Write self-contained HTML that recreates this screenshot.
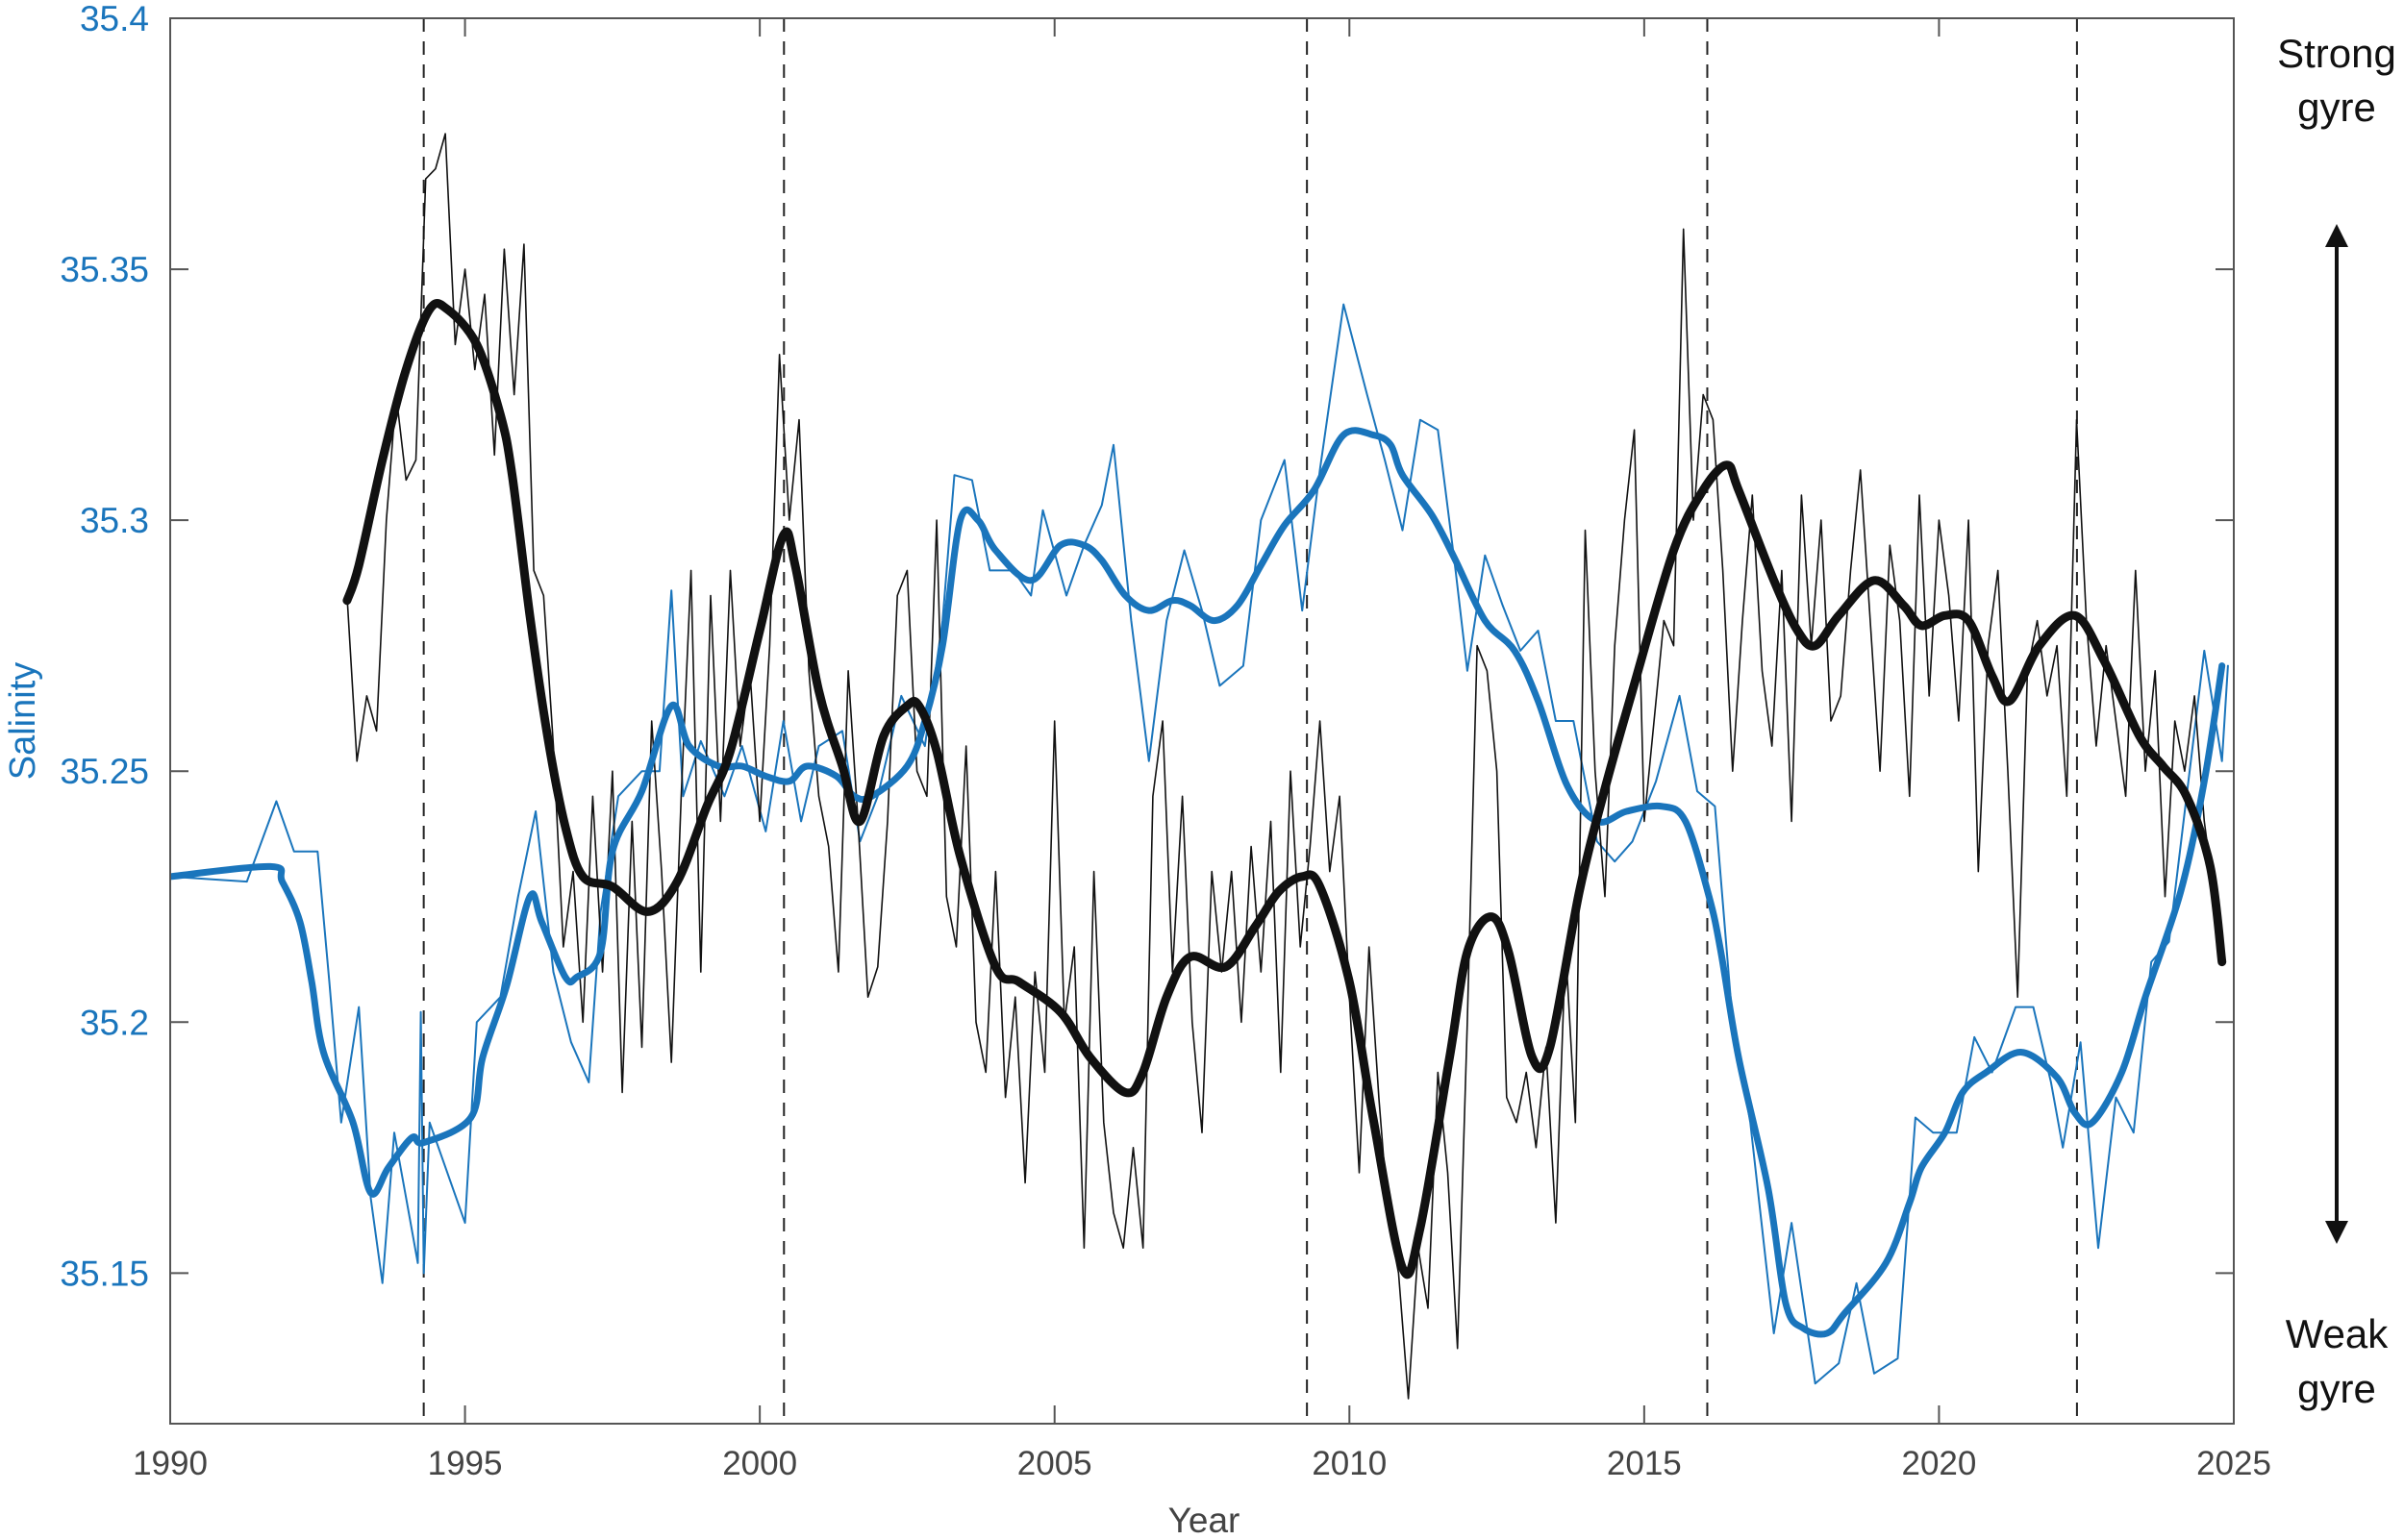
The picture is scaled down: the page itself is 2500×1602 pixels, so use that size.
<!DOCTYPE html>
<html><head><meta charset="utf-8"><style>
html,body{margin:0;padding:0;background:#fff;}
svg{display:block;font-family:"Liberation Sans",Arial,sans-serif;}
</style></head><body>
<svg id="chart" width="2500" height="1602" viewBox="0 0 2500 1602">
<defs><marker id="ah" viewBox="0 0 10 10" refX="5" refY="5" markerWidth="6" markerHeight="6" orient="auto-start-reverse"><path d="M0,0 L10,5 L0,10 z" fill="#111"/></marker></defs>
<g id="grid"></g><g id="series"></g><g id="axes"></g>
<text x="2430" y="70" font-size="42" text-anchor="middle" fill="#111">Strong</text>
<text x="2430" y="126" font-size="42" text-anchor="middle" fill="#111">gyre</text>
<text x="2430" y="1402" font-size="42" text-anchor="middle" fill="#111">Weak</text>
<text x="2430" y="1459" font-size="42" text-anchor="middle" fill="#111">gyre</text>
<line x1="2430" y1="245" x2="2430" y2="1282" stroke="#111" stroke-width="4" marker-start="url(#ah)" marker-end="url(#ah)"/>
<text x="1252" y="1594" font-size="37" text-anchor="middle" fill="#444">Year</text>
<text transform="translate(36,750) rotate(-90)" font-size="38" text-anchor="middle" fill="#1a75bc">Salinity</text>
</svg>
<script>
const xTicks=[1990,1995,2000,2005,2010,2015,2020,2025];
const yTicks=[35.15,35.2,35.25,35.3,35.35,35.4];
const yTickLabels=["35.15","35.2","35.25","35.3","35.35","35.4"];
const eventYears=[1994.3,2000.41,2009.28,2016.07,2022.34];
const blueSmoothYears=[1990,1991.7,1991.9,1992.2,1992.4,1992.6,1993.1,1993.4,1993.7,1994.1,1994.3,1995.1,1995.3,1995.7,1996.1,1996.3,1996.7,1996.9,1997.3,1997.5,1998.0,1998.5,1998.8,1999.3,1999.7,2000.1,2000.5,2000.8,2001.3,2001.6,2001.9,2002.5,2002.8,2003.1,2003.4,2003.7,2004.0,2004.6,2005.1,2005.5,2005.8,2006.2,2006.6,2007.0,2007.3,2007.7,2008.1,2008.5,2008.9,2009.4,2009.9,2010.4,2010.7,2010.9,2011.4,2011.8,2012.3,2012.8,2013.2,2013.7,2014.2,2014.7,2015.3,2015.7,2016.1,2016.3,2016.6,2017.1,2017.4,2017.7,2018.1,2018.4,2019.1,2019.5,2019.7,2020.1,2020.4,2020.8,2021.4,2022.0,2022.3,2022.6,2023.1,2023.5,2024.1,2024.5,2024.8];
const blueSmoothValues=[35.229,35.231,35.228,35.220,35.208,35.194,35.180,35.166,35.171,35.177,35.176,35.181,35.193,35.207,35.225,35.220,35.209,35.209,35.214,35.234,35.246,35.263,35.255,35.251,35.251,35.249,35.248,35.251,35.249,35.245,35.245,35.251,35.260,35.275,35.300,35.300,35.294,35.288,35.295,35.295,35.292,35.285,35.282,35.284,35.283,35.280,35.283,35.291,35.299,35.306,35.317,35.317,35.315,35.309,35.301,35.292,35.280,35.274,35.264,35.247,35.240,35.242,35.243,35.240,35.225,35.214,35.193,35.167,35.144,35.139,35.138,35.142,35.152,35.164,35.171,35.178,35.186,35.190,35.194,35.189,35.182,35.180,35.190,35.205,35.226,35.248,35.271];
const blueThinYears=[1990,1991.3,1991.8,1992.1,1992.5,1992.7,1992.9,1993.2,1993.4,1993.6,1993.8,1994.0,1994.2,1994.25,1994.3,1994.4,1995.0,1995.2,1995.6,1995.9,1996.2,1996.5,1996.8,1997.1,1997.3,1997.6,1998.0,1998.3,1998.5,1998.7,1999.0,1999.4,1999.7,2000.1,2000.4,2000.7,2001.0,2001.4,2001.7,2002.0,2002.4,2002.8,2003.1,2003.3,2003.6,2003.9,2004.3,2004.6,2004.8,2005.2,2005.5,2005.8,2006.0,2006.3,2006.6,2006.9,2007.2,2007.5,2007.8,2008.2,2008.5,2008.9,2009.2,2009.5,2009.9,2010.3,2010.6,2010.9,2011.2,2011.5,2011.8,2012.0,2012.3,2012.6,2012.9,2013.2,2013.5,2013.8,2014.2,2014.5,2014.8,2015.2,2015.6,2015.9,2016.2,2016.5,2016.8,2017.2,2017.5,2017.9,2018.3,2018.6,2018.9,2019.3,2019.6,2019.9,2020.3,2020.6,2020.9,2021.3,2021.6,2021.9,2022.1,2022.4,2022.7,2023.0,2023.3,2023.6,2023.9,2024.2,2024.5,2024.8,2024.9];
const blueThinValues=[35.229,35.228,35.244,35.234,35.234,35.208,35.180,35.203,35.165,35.148,35.178,35.165,35.152,35.202,35.150,35.180,35.160,35.200,35.205,35.225,35.242,35.210,35.196,35.188,35.222,35.245,35.250,35.250,35.286,35.245,35.256,35.245,35.255,35.238,35.260,35.240,35.255,35.258,35.236,35.245,35.265,35.255,35.280,35.309,35.308,35.290,35.290,35.285,35.302,35.285,35.295,35.303,35.315,35.280,35.252,35.280,35.294,35.282,35.267,35.271,35.300,35.312,35.282,35.310,35.343,35.325,35.312,35.298,35.320,35.318,35.290,35.270,35.293,35.283,35.274,35.278,35.260,35.260,35.236,35.232,35.236,35.248,35.265,35.246,35.243,35.200,35.180,35.138,35.160,35.128,35.132,35.148,35.130,35.133,35.181,35.178,35.178,35.197,35.190,35.203,35.203,35.188,35.175,35.196,35.155,35.185,35.178,35.212,35.216,35.245,35.274,35.252,35.271];
const blackSmoothYears=[1993.0,1993.2,1993.6,1994.0,1994.4,1994.7,1995.2,1995.6,1995.8,1996.1,1996.4,1996.7,1997.0,1997.5,1998.1,1998.6,1999.1,1999.5,2000.0,2000.4,2000.6,2001.0,2001.4,2001.7,2002.1,2002.5,2002.7,2003.0,2003.4,2004.0,2004.4,2005.1,2005.6,2006.2,2006.5,2006.9,2007.3,2007.9,2008.4,2008.8,2009.2,2009.5,2010.0,2010.4,2010.9,2011.2,2011.7,2012.0,2012.4,2012.7,2013.1,2013.4,2013.9,2014.3,2014.8,2015.5,2016.0,2016.4,2016.6,2017.2,2017.6,2017.9,2018.3,2018.9,2019.4,2019.7,2020.1,2020.5,2020.9,2021.2,2021.7,2022.3,2022.8,2023.4,2023.8,2024.2,2024.6,2024.8];
const blackSmoothValues=[35.284,35.291,35.312,35.330,35.342,35.342,35.335,35.321,35.309,35.281,35.257,35.239,35.229,35.227,35.222,35.228,35.243,35.254,35.278,35.297,35.291,35.266,35.251,35.240,35.257,35.263,35.263,35.254,35.233,35.211,35.208,35.202,35.193,35.186,35.190,35.205,35.213,35.211,35.219,35.226,35.229,35.227,35.208,35.181,35.151,35.159,35.193,35.214,35.221,35.214,35.193,35.195,35.226,35.245,35.266,35.294,35.306,35.311,35.306,35.288,35.278,35.275,35.281,35.288,35.283,35.279,35.281,35.280,35.269,35.264,35.275,35.281,35.272,35.257,35.251,35.245,35.231,35.212];
const blackThinStart=1993.0;
const blackThinValues=[35.285,35.252,35.265,35.258,35.300,35.325,
35.308,35.312,35.368,35.370,35.377,35.335,
35.350,35.330,35.345,35.313,35.354,35.325,
35.355,35.290,35.285,35.255,35.215,35.230,
35.200,35.245,35.210,35.250,35.186,35.240,
35.195,35.260,35.230,35.192,35.245,35.290,
35.210,35.285,35.240,35.290,35.255,35.270,
35.240,35.275,35.333,35.300,35.320,35.270,
35.245,35.235,35.210,35.270,35.240,35.205,
35.211,35.240,35.285,35.290,35.250,35.245,
35.300,35.225,35.215,35.255,35.200,35.190,
35.230,35.185,35.205,35.168,35.210,35.190,
35.260,35.200,35.215,35.155,35.230,35.180,
35.162,35.155,35.175,35.155,35.245,35.260,
35.210,35.245,35.200,35.178,35.230,35.210,
35.230,35.200,35.235,35.210,35.240,35.190,
35.250,35.215,35.235,35.260,35.230,35.245,
35.205,35.170,35.215,35.185,35.160,35.150,
35.125,35.155,35.143,35.190,35.170,35.135,
35.200,35.275,35.270,35.250,35.185,35.180,
35.190,35.175,35.195,35.160,35.215,35.180,
35.298,35.250,35.225,35.275,35.300,35.318,
35.240,35.260,35.280,35.275,35.358,35.300,
35.325,35.320,35.290,35.250,35.280,35.305,
35.270,35.255,35.290,35.240,35.305,35.275,
35.300,35.260,35.265,35.290,35.310,35.280,
35.250,35.295,35.280,35.245,35.305,35.265,
35.300,35.285,35.260,35.300,35.230,35.275,
35.290,35.250,35.205,35.270,35.280,35.265,
35.275,35.245,35.320,35.280,35.255,35.275,
35.260,35.245,35.290,35.250,35.270,35.225,
35.260,35.250,35.265,35.240,35.225];

const L=177,R=2323,T=19,B=1481,X0=1990,X1=2025,Y0=35.12,Y1=35.4;
const NS="http://www.w3.org/2000/svg";
function xs(v){return L+(v-X0)/(X1-X0)*(R-L);}
function ys(v){return B-(v-Y0)/(Y1-Y0)*(B-T);}
function mk(tag,attrs,parent){const e=document.createElementNS(NS,tag);for(const k in attrs)e.setAttribute(k,attrs[k]);parent.appendChild(e);return e;}
const gS=document.getElementById('series'),gA=document.getElementById('axes'),gG=document.getElementById('grid');

eventYears.forEach(function(yr){
  const l=mk('line',{x1:xs(yr),x2:xs(yr),y1:T,y2:B,stroke:'#222','stroke-width':2,'stroke-dasharray':'14,10'},gG);
  
  
});

function poly(xsArr,vals,color,w,name,smooth){
  const P=vals.map(function(v,i){return [xs(xsArr[i]),ys(v)];});
  let d='M'+P[0][0].toFixed(1)+','+P[0][1].toFixed(1);
  for(let i=0;i<P.length-1;i++){
    if(!smooth){d+='L'+P[i+1][0].toFixed(1)+','+P[i+1][1].toFixed(1);continue;}
    const p0=P[Math.max(0,i-1)],p1=P[i],p2=P[i+1],p3=P[Math.min(P.length-1,i+2)];
    const c1x=p1[0]+(p2[0]-p0[0])/6,c1y=p1[1]+(p2[1]-p0[1])/6;
    const c2x=p2[0]-(p3[0]-p1[0])/6,c2y=p2[1]-(p3[1]-p1[1])/6;
    d+='C'+c1x.toFixed(1)+','+c1y.toFixed(1)+' '+c2x.toFixed(1)+','+c2y.toFixed(1)+' '+p2[0].toFixed(1)+','+p2[1].toFixed(1);
  }
  const p=mk('path',{d:d,fill:'none',stroke:color,'stroke-width':w,'stroke-linejoin':'round','stroke-linecap':'round'},gS);
  
  
}
const btYears=blackThinValues.map(function(v,i){return blackThinStart+i/6;});
const clip=mk('clipPath',{id:'pc'},document.querySelector('defs'));
mk('rect',{x:L,y:T,width:R-L,height:B-T},clip);
gS.setAttribute('clip-path','url(#pc)');
poly(blueThinYears,blueThinValues,'#1a75bc',2,'salinity-raw-line',false);
poly(btYears,blackThinValues,'#111',1.6,'gyre-index-raw-line',false);
poly(blueSmoothYears,blueSmoothValues,'#1a75bc',7,'salinity-smoothed-line',true);
poly(blackSmoothYears,blackSmoothValues,'#111',9,'gyre-index-smoothed-line',true);

const frame=mk('rect',{x:L,y:T,width:R-L,height:B-T,fill:'none',stroke:'#555','stroke-width':2},gA);


xTicks.forEach(function(t){
  const x=xs(t);
  mk('line',{x1:x,x2:x,y1:B,y2:B-19,stroke:'#555','stroke-width':2},gA);
  mk('line',{x1:x,x2:x,y1:T,y2:T+19,stroke:'#555','stroke-width':2},gA);
  const tx=mk('text',{x:x,y:B+53,'font-size':35,'text-anchor':'middle',fill:'#444'},gA);
  tx.textContent=t;
  
  
});
yTicks.forEach(function(t,i){
  const y=ys(t);
  mk('line',{x1:L,x2:L+19,y1:y,y2:y,stroke:'#555','stroke-width':2},gA);
  mk('line',{x1:R,x2:R-19,y1:y,y2:y,stroke:'#555','stroke-width':2},gA);
  const tx=mk('text',{x:L-22,y:y+13,'font-size':37,'text-anchor':'end',fill:'#1a75bc'},gA);
  tx.textContent=yTickLabels[i];
  
  
});
</script>
</body></html>
